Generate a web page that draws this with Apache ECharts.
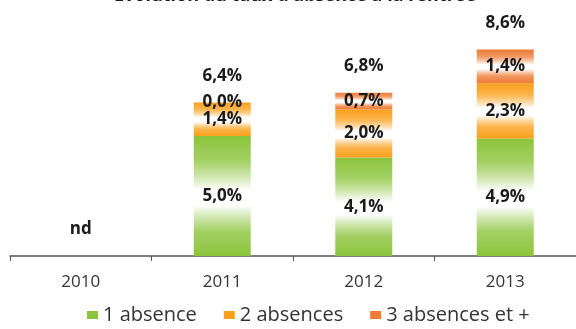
<!DOCTYPE html>
<html><head><meta charset="utf-8">
<script src="https://cdn.jsdelivr.net/npm/echarts@6/dist/echarts.min.js"></script>
<style>html,body{margin:0;padding:0;background:#fff}#c{width:576px;height:329px}</style>
</head><body><div id="c"></div>
<script>
const categories = ['2010', '2011', '2012', '2013'];
const oneAbsence = [null, 5.0, 4.1, 4.9];
const twoAbsences = [null, 1.4, 2.0, 2.3];
const threePlus = [null, 0.0, 0.7, 1.4];
const totals = [0, 6.4, 6.8, 8.6];
const totalLabels = ['nd', '6,4%', '6,8%', '8,6%'];
const seriesNames = ['1 absence', '2 absences', '3 absences et +'];

const fmt = v => v.toFixed(1).replace('.', ',') + '%';
function grad(c) {
  return new echarts.graphic.LinearGradient(0, 0, 0, 1, [
    {offset: 0, color: c}, {offset: 0.2, color: c + 'cc'},
    {offset: 0.45, color: '#ffffff'}, {offset: 0.58, color: '#ffffff'},
    {offset: 0.8, color: c + 'cc'}, {offset: 1, color: c}
  ]);
}
const colors = ['#8cc43c', '#f9a01c', '#ee7b35'];
const labelStyle = {show: true, position: 'inside', fontFamily: 'Open Sans', fontWeight: 'bold', fontSize: 17, color: '#1a1a1a',
  formatter: p => fmt(p.value)};
const chart = echarts.init(document.getElementById('c'));
chart.setOption({
  animation: false,
  title: {text: "Evolution du taux d'absence à la rentrée", left: 290, textAlign: 'center', top: -18,
    textStyle: {fontFamily: 'Open Sans', fontWeight: 'bold', fontSize: 18, color: '#1a1a1a'}},
  grid: {left: 10, right: -2, top: 16, bottom: 73},
  legend: {bottom: -1, left: 82, itemWidth: 11, itemHeight: 8, itemGap: 27, icon: 'rect',
    data: seriesNames.map((n, i) => ({name: n, itemStyle: {color: colors[i]}})),
    textStyle: {fontFamily: 'Open Sans', fontSize: 20, color: '#333'}},
  xAxis: {type: 'category', data: categories,
    axisLine: {lineStyle: {color: '#555', width: 1.5}},
    axisTick: {show: true, length: 5, lineStyle: {color: '#555'}},
    axisLabel: {fontFamily: 'Open Sans', fontSize: 17, color: '#333', margin: 18}},
  yAxis: {type: 'value', min: 0, max: 10, show: false, splitLine: {show: false}},
  series: [
    {name: seriesNames[0], type: 'bar', stack: 's', barWidth: 57, data: oneAbsence,
      itemStyle: {color: grad(colors[0])}, label: labelStyle},
    {name: seriesNames[1], type: 'bar', stack: 's', barWidth: 57, data: twoAbsences,
      itemStyle: {color: grad(colors[1])}, label: labelStyle},
    {name: seriesNames[2], type: 'bar', stack: 's', barWidth: 57, data: threePlus,
      itemStyle: {color: grad(colors[2])}, label: labelStyle},
    {name: 'total', type: 'scatter', data: totals, symbol: 'circle', symbolSize: 2,
      itemStyle: {color: 'rgba(255,255,255,0)', opacity: 1}, silent: true,
      label: {show: true, position: 'top', distance: 17, fontFamily: 'Open Sans', fontWeight: 'bold', fontSize: 17, color: '#1a1a1a',
        formatter: p => totalLabels[p.dataIndex]}}
  ]
});
</script></body></html>
